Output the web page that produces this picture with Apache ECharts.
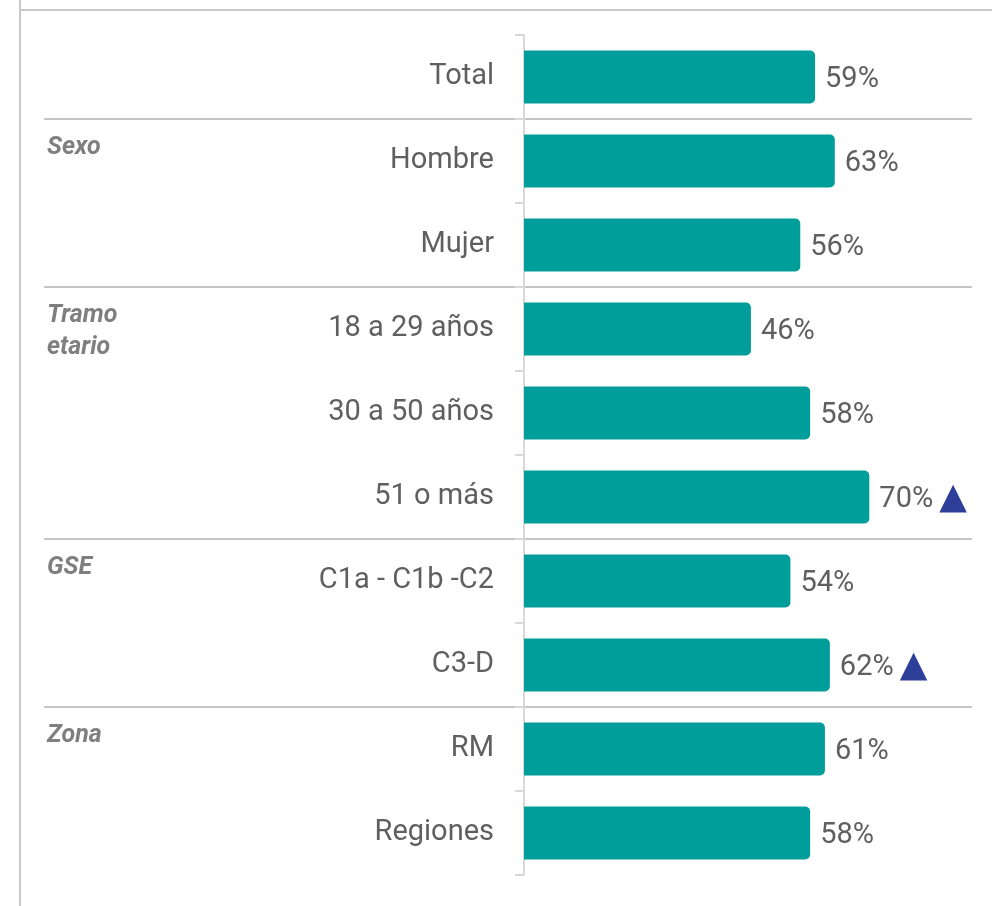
<!DOCTYPE html>
<html>
<head>
<meta charset="utf-8">
<title>Barras por segmento</title>
<script src="https://cdn.jsdelivr.net/npm/echarts@6/dist/echarts.min.js"></script>
<style>
  html, body { margin: 0; padding: 0; background: #fff; }
  #chart { width: 992px; height: 906px; }
</style>
</head>
<body>
<div id="chart"></div>
<script>
// datos
var categorias = ['Total', 'Hombre', 'Mujer', '18 a 29 años', '30 a 50 años', '51 o más', 'C1a - C1b -C2', 'C3-D', 'RM', 'Regiones'];
var valores = [59, 63, 56, 46, 58, 70, 54, 62, 61, 58];
// diferencia significativa al alza
var alza = [false, false, false, false, false, true, false, true, false, false];
// grupos: nombre y primera categoria
var grupos = ['Sexo', 'Tramo\netario', 'GSE', 'Zona'];
var gruposInicio = [1, 3, 6, 8];

var chart = echarts.init(document.getElementById('chart'));

var option = {
    animation: false,
    grid: {
        left: 524,
        right: 24,
        top: 35,
        bottom: 31
    },
    xAxis: {
        type: 'value',
        min: 0,
        max: 90,
        show: false
    },
    yAxis: {
        type: 'category',
        inverse: true,
        data: categorias,
        axisLine: { show: true, lineStyle: { color: '#d9d9d9', width: 2 } },
        axisTick: { show: true, length: 9, lineStyle: { color: '#d9d9d9', width: 2 } },
        axisLabel: {
            margin: 30,
            fontSize: 29,
            fontFamily: 'Roboto',
            color: '#5f5f5f',
            padding: [6, 0, 0, 0]
        }
    },
    series: [
        {
            type: 'bar',
            barWidth: 53,
            data: valores,
            itemStyle: {
                color: '#009e9a',
                borderRadius: [0, 5, 5, 0]
            },
            label: {
                show: true,
                position: 'right',
                distance: 10,
                offset: [0, 3],
                formatter: function (p) {
                    var txt = '{v|' + p.value + '%}';
                    if (alza[p.dataIndex]) txt += '{t|▲}';
                    return txt;
                },
                rich: {
                    v: { fontSize: 29, fontFamily: 'Roboto', color: '#5f5f5f' },
                    t: { fontSize: 36, fontFamily: 'DejaVu Sans', color: '#2e3f99', padding: [0, 0, 2, 6] }
                }
            }
        }
    ]
};
chart.setOption(option);

// lineas y etiquetas de grupo
var y0 = chart.convertToPixel({ yAxisIndex: 0 }, categorias[0]);
var y1 = chart.convertToPixel({ yAxisIndex: 0 }, categorias[1]);
var banda = y1 - y0;
var graficos = [
    { type: 'line', shape: { x1: 20, y1: 0, x2: 20, y2: 906 }, style: { stroke: '#c8c8c8', lineWidth: 2 }, silent: true },
    { type: 'line', shape: { x1: 20, y1: 10, x2: 992, y2: 10 }, style: { stroke: '#c8c8c8', lineWidth: 2 }, silent: true }
];
gruposInicio.forEach(function (idx, i) {
    var yc = chart.convertToPixel({ yAxisIndex: 0 }, categorias[idx]);
    var top = Math.round(yc - banda / 2);
    graficos.push({
        type: 'line',
        shape: { x1: 44, y1: top, x2: 972, y2: top },
        style: { stroke: '#c6c6c6', lineWidth: 2 },
        silent: true
    });
    graficos.push({
        type: 'text',
        x: 47,
        y: top + 13,
        style: {
            text: grupos[i],
            fontSize: 25,
            fontWeight: 'bold',
            fontStyle: 'italic',
            fontFamily: 'Roboto',
            fill: '#7f7f7f',
            lineHeight: 32
        },
        silent: true
    });
});
chart.setOption({ graphic: graficos });
</script>
</body>
</html>
